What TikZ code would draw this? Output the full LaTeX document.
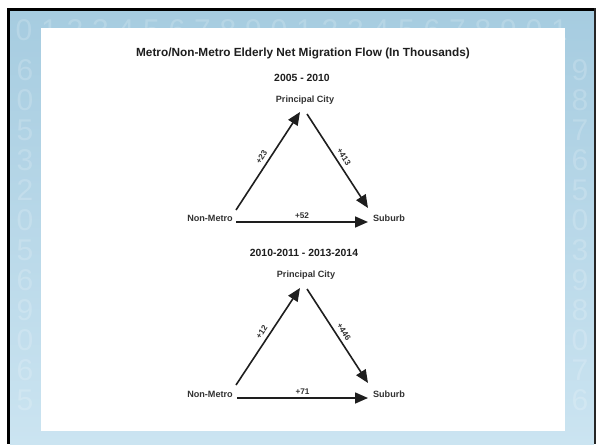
\documentclass[tikz,border=0pt]{standalone}
\usepackage{fontspec}
\setmainfont{Liberation Sans}
\usetikzlibrary{arrows.meta}
\definecolor{bgtop}{RGB}{166,204,224}
\definecolor{bgbot}{RGB}{203,228,241}
\definecolor{ink}{RGB}{30,30,30}
\definecolor{labelink}{RGB}{50,50,50}
\tikzset{
  titletext/.style={font=\bfseries\fontsize{11.8}{13}\selectfont, text=ink, inner sep=0pt},
  periodtext/.style={font=\bfseries\fontsize{10.4}{12}\selectfont, text=ink, inner sep=0pt},
  placetext/.style={font=\bfseries\fontsize{9.1}{11}\selectfont, text=labelink, inner sep=0pt},
  flowtext/.style={font=\bfseries\fontsize{8.2}{10}\selectfont, text=labelink, inner sep=1pt},
  flowarrow/.style={draw=ink, line width=1.6pt, -{Triangle[length=13pt,width=11pt]}},
  bgdigit/.style={font=\fontsize{30}{30}\selectfont, text=white, opacity=0.18, inner sep=0pt}
}
\begin{document}
\begin{tikzpicture}[x=1pt,y=-1pt]
\useasboundingbox (0,0) rectangle (596,444);
% page and frame
\fill[white] (0,0) rectangle (596,444);
\shade[top color=bgtop, bottom color=bgbot] (10,11) rectangle (594,444);
% faint background digits
\foreach \d [count=\i from 0] in {0,1,2,3,4,5,6,7,8,9,0,1,2,3,4,5,6,7,8,9,0,1}
  {\node[bgdigit] (td\i) at (24+25.5*\i,30) {\d};}
\foreach \d [count=\i from 0] in {6,0,5,3,2,0,5,6,9,0,6,5}
  {\node[bgdigit] (ld\i) at (25,70+30*\i) {\d};}
\foreach \d [count=\i from 0] in {9,8,7,6,5,0,3,9,8,0,7,6}
  {\node[bgdigit] (rd\i) at (580,70+30*\i) {\d};}
\fill[black] (7,8) rectangle (596,11);
\fill[black] (7,8) rectangle (10,444);
\fill[black!85] (594,8) rectangle (596,444);
% white panel
\fill[white] (41,28) rectangle (565,431);

% title
\node[titletext] (title) at (303,53) {Metro/Non-Metro Elderly Net Migration Flow (In Thousands)};

% ---- 2005 - 2010 ----
\node[periodtext] (p1) at (302,78) {2005 - 2010};
\node[placetext] (pc1) at (305,100) {Principal City};
\node[placetext] (nm1) at (210,218) {Non-Metro};
\node[placetext] (sb1) at (389,218) {Suburb};
\coordinate (a1s) at (236,210);
\coordinate (a1e) at (300,112);
\coordinate (b1s) at (307,114);
\coordinate (b1e) at (368,208);
\coordinate (c1s) at (236,222);
\coordinate (c1e) at (368,222);
\draw[flowarrow] (a1s) -- node[flowtext, sloped, above=3pt] (l23) {+23} (a1e);
\draw[flowarrow] (b1s) -- node[flowtext, sloped, above=3pt] (l413) {+413} (b1e);
\draw[flowarrow] (c1s) -- node[flowtext, above=2pt] (l52) {+52} (c1e);

% ---- 2010-2011 - 2013-2014 ----
\node[periodtext] (p2) at (304,253) {2010-2011 - 2013-2014};
\node[placetext] (pc2) at (306,275) {Principal City};
\node[placetext] (nm2) at (210,394) {Non-Metro};
\node[placetext] (sb2) at (389,394) {Suburb};
\coordinate (a2s) at (236,385);
\coordinate (a2e) at (300,288);
\coordinate (b2s) at (307,289);
\coordinate (b2e) at (368,383);
\coordinate (c2s) at (237,398);
\coordinate (c2e) at (368,398);
\draw[flowarrow] (a2s) -- node[flowtext, sloped, above=3pt] (l12) {+12} (a2e);
\draw[flowarrow] (b2s) -- node[flowtext, sloped, above=3pt] (l446) {+446} (b2e);
\draw[flowarrow] (c2s) -- node[flowtext, above=2pt] (l71) {+71} (c2e);
\end{tikzpicture}
\end{document}
